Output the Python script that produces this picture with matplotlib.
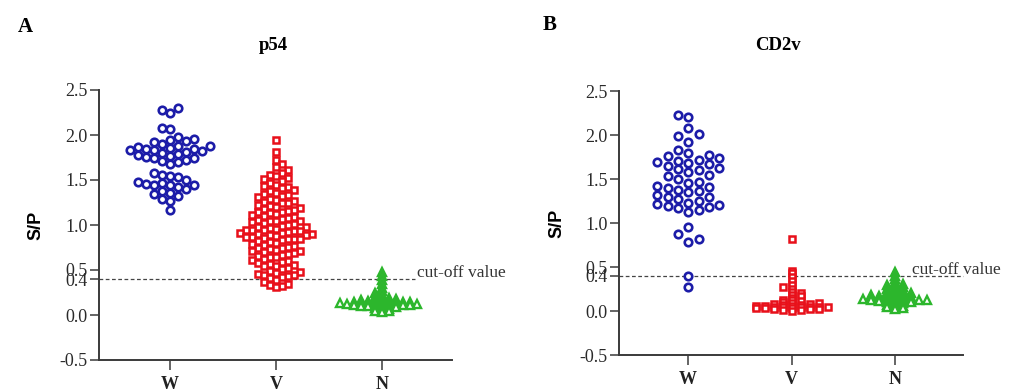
import matplotlib
matplotlib.use("Agg")
import matplotlib.pyplot as plt
import numpy as np

plt.rcParams["font.family"] = ["Liberation Serif", "DejaVu Serif"]

W_PX, H_PX = 1023, 392
DPI = 100

GROUPS = ["W", "V", "N"]
CUTOFF = 0.4
YTICKS = [-0.5, 0.0, 0.4, 0.5, 1.0, 1.5, 2.0, 2.5]
YTICK_LABELS = ["-0.5", "0.0", "0.4", "0.5", "1.0", "1.5", "2.0", "2.5"]

# panel A, p54
p54_w = [2.30, 2.28, 2.24, 2.08, 2.07, 1.98, 1.96, 1.95, 1.93, 1.92, 1.90, 1.88,
         1.88, 1.87, 1.86, 1.85, 1.84, 1.83, 1.83, 1.82, 1.81, 1.80, 1.79, 1.78,
         1.77, 1.76, 1.75, 1.74, 1.72, 1.71, 1.70, 1.68, 1.58, 1.56, 1.55, 1.53,
         1.50, 1.48, 1.47, 1.46, 1.45, 1.45, 1.44, 1.42, 1.40, 1.38, 1.36, 1.34,
         1.32, 1.29, 1.27, 1.17]
p54_v = [1.94, 1.81, 1.72,
         1.68, 1.64, 1.61,
         1.58, 1.56, 1.54, 1.52, 1.51,
         1.49, 1.47, 1.45, 1.43, 1.42, 1.41,
         1.39, 1.38, 1.36, 1.35, 1.33, 1.32, 1.31,
         1.29, 1.28, 1.27, 1.26, 1.25, 1.24, 1.22, 1.21, 1.20,
         1.19, 1.18, 1.17, 1.16, 1.15, 1.14, 1.13, 1.12, 1.11, 1.10,
         1.09, 1.08, 1.07, 1.06, 1.05, 1.05, 1.04, 1.03, 1.02, 1.01, 1.00,
         0.99, 0.98, 0.98, 0.97, 0.96, 0.95, 0.95, 0.94, 0.93, 0.93, 0.92, 0.91,
         0.91, 0.90, 0.90,
         0.89, 0.89, 0.88, 0.87, 0.87, 0.86, 0.85, 0.85, 0.84, 0.83,
         0.82, 0.81, 0.80,
         0.79, 0.78, 0.77, 0.76, 0.75, 0.74, 0.73, 0.72, 0.71, 0.71, 0.70,
         0.69, 0.68, 0.67, 0.66, 0.65, 0.64, 0.62, 0.61, 0.60,
         0.59, 0.58, 0.57, 0.56, 0.55, 0.54, 0.52, 0.51,
         0.49, 0.48, 0.47, 0.46, 0.45, 0.44, 0.43, 0.42, 0.41,
         0.39, 0.37, 0.35, 0.33, 0.32, 0.31]
p54_n = [0.48, 0.43, 0.39, 0.35, 0.30, 0.27, 0.24, 0.22, 0.20, 0.19, 0.18, 0.18,
         0.17, 0.17, 0.16, 0.16, 0.15, 0.15, 0.15, 0.14, 0.14, 0.14, 0.13, 0.13,
         0.13, 0.13, 0.12, 0.12, 0.12, 0.12, 0.11, 0.11, 0.11, 0.11, 0.10, 0.10,
         0.10, 0.09, 0.09, 0.08, 0.07, 0.06, 0.05, 0.04, 0.03]

# panel B, CD2v
cd2v_w = [2.23, 2.21, 2.08, 2.01, 1.99, 1.92, 1.83, 1.79, 1.77, 1.76, 1.74, 1.72,
          1.71, 1.69, 1.68, 1.67, 1.65, 1.62, 1.61, 1.60, 1.58, 1.55,
          1.53, 1.50, 1.47, 1.46, 1.42, 1.41, 1.40, 1.38, 1.36, 1.35, 1.32,
          1.30, 1.29, 1.27, 1.25, 1.23, 1.22, 1.21, 1.19, 1.18, 1.17, 1.15,
          1.13, 0.95, 0.87, 0.82, 0.78, 0.40, 0.27]
cd2v_v = [0.82, 0.46, 0.43, 0.39, 0.34, 0.30, 0.27, 0.25, 0.22, 0.20, 0.18, 0.17,
          0.15, 0.13, 0.12, 0.11, 0.10, 0.09, 0.09, 0.08, 0.08, 0.07, 0.07, 0.06,
          0.06, 0.06, 0.05, 0.05, 0.05, 0.04, 0.04, 0.04, 0.03, 0.03, 0.03, 0.02,
          0.02, 0.02, 0.01, 0.01, 0.00]
cd2v_n = [0.44, 0.40, 0.36, 0.33, 0.31, 0.30, 0.29, 0.27, 0.26, 0.25, 0.24, 0.23,
          0.22, 0.21, 0.20, 0.20, 0.19, 0.18, 0.18, 0.17, 0.17, 0.16, 0.16, 0.15,
          0.15, 0.14, 0.14, 0.14, 0.13, 0.13, 0.13, 0.12, 0.12, 0.12, 0.11, 0.11,
          0.10, 0.10, 0.09, 0.08, 0.07, 0.06, 0.05, 0.04, 0.03, 0.02]

AX_GRAY = "#3a3a3a"
BLUE = "#1c1ca8"
RED = "#e8101a"
GREEN = "#2cb62c"

STYLE = {
    "W": dict(marker="o", color=BLUE, ms=5.4, mew=1.9),
    "V": dict(marker="s", color=RED, ms=4.8, mew=1.8),
    "N": dict(marker="^", color=GREEN, ms=5.8, mew=1.7),
}


def swarm_offsets(values, col_px, dmin_px, px_per_y):
    """Place points in discrete columns, GraphPad style."""
    values = np.asarray(values, dtype=float)
    order = np.argsort(values, kind="stable")
    placed = {}
    cols = np.zeros(len(values))
    for n, i in enumerate(order):
        y = values[i] * px_per_y
        sign = 1 if n % 2 else -1
        cands = [0]
        for k in range(1, 40):
            cands += [sign * k, -sign * k]
        for c in cands:
            if all(abs(y - yy) >= dmin_px for yy in placed.get(c, [])):
                placed.setdefault(c, []).append(y)
                cols[i] = c
                break
    return cols * col_px


def plot_panel(ax, data, swarm, title, title_x, letter, letter_xy, cut_text_x, cut_line_end):
    ax.set_xlim(-0.67, 2.66)
    ax.set_ylim(-0.5, 2.5)

    fig = ax.figure
    bbox = ax.get_position()
    px_per_x = bbox.width * W_PX / 3.33
    px_per_y = bbox.height * H_PX / 3.0

    for idx, (name, vals) in enumerate(zip(GROUPS, data)):
        col_px, dmin_px = swarm[name]
        dx = swarm_offsets(vals, col_px, dmin_px, px_per_y) / px_per_x
        st = STYLE[name]
        ax.plot(idx + dx, vals, ls="none", marker=st["marker"], ms=st["ms"],
                mew=st["mew"], mec=st["color"], mfc="white", zorder=3)

    ax.plot([-0.67, cut_line_end], [CUTOFF, CUTOFF], ls=(0, (3, 2)), lw=0.9,
            color="#444444", zorder=2, clip_on=False)
    ax.text(cut_text_x, CUTOFF + 0.02, "cut-off value", fontsize=12.5,
            color="#333333", ha="left", va="baseline", clip_on=False)

    for side in ["top", "right"]:
        ax.spines[side].set_visible(False)
    for side in ["left", "bottom"]:
        ax.spines[side].set_color(AX_GRAY)
        ax.spines[side].set_linewidth(1.4)

    ax.set_yticks(YTICKS)
    ax.set_yticklabels(YTICK_LABELS)
    ax.set_xticks(range(len(GROUPS)))
    ax.set_xticklabels(GROUPS, fontweight="bold")
    ax.tick_params(axis="y", length=6.5, width=1.1, color=AX_GRAY, labelsize=13,
                   pad=1.5, labelcolor="#2a2a2a")
    ax.tick_params(axis="x", length=7, width=1.1, color=AX_GRAY, labelsize=13,
                   pad=4.5, labelcolor="#222222")

    ax.set_ylabel("S/P", fontsize=13, fontweight="bold",
                  family=["Liberation Sans", "DejaVu Sans"])
    ax.yaxis.set_label_coords(-0.155, 0.5)

    fig.text(title_x / W_PX, 1 - 45 / H_PX, title, fontsize=13.5,
             fontweight="bold", ha="center", va="center")
    fig.text(letter_xy[0] / W_PX, 1 - letter_xy[1] / H_PX, letter,
             fontsize=15, fontweight="bold", ha="center", va="center")


fig = plt.figure(figsize=(W_PX / DPI, H_PX / DPI), dpi=DPI)

ax_a = fig.add_axes([99 / W_PX, 32 / H_PX, 353 / W_PX, 270 / H_PX])
ax_b = fig.add_axes([619 / W_PX, 37 / H_PX, 344 / W_PX, 264 / H_PX])

plot_panel(ax_a, [p54_w, p54_v, p54_n],
           {"W": (8, 7.5), "V": (6, 6.5), "N": (7, 2.2)},
           "p54", 273, "A", (25, 27), cut_text_x=2.33, cut_line_end=2.31)
plot_panel(ax_b, [cd2v_w, cd2v_v, cd2v_n],
           {"W": (10.3, 8.5), "V": (9, 2.5), "N": (8, 2.6)},
           "CD2v", 778, "B", (550, 25), cut_text_x=2.17, cut_line_end=2.66)

fig.savefig("out.png", dpi=DPI)
